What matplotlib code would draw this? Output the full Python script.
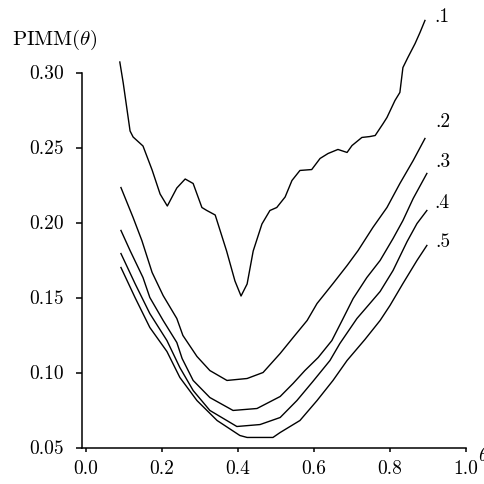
import matplotlib
matplotlib.use("Agg")
import matplotlib.pyplot as plt

plt.rcParams['mathtext.fontset'] = 'cm'

# curve .1
x1 = [0.089, 0.098, 0.116, 0.124, 0.150, 0.174, 0.195, 0.214, 0.239, 0.261, 0.282, 0.305,
      0.318, 0.340, 0.370, 0.392, 0.408, 0.424, 0.440, 0.463, 0.484, 0.502, 0.524, 0.542,
      0.563, 0.594, 0.616, 0.637, 0.663, 0.687, 0.700, 0.726, 0.747, 0.761, 0.782, 0.792,
      0.813, 0.826, 0.834, 0.847, 0.866, 0.879, 0.892]
y1 = [0.307, 0.293, 0.261, 0.257, 0.251, 0.235, 0.219, 0.211, 0.223, 0.229, 0.226, 0.210,
      0.208, 0.205, 0.181, 0.161, 0.151, 0.159, 0.181, 0.199, 0.208, 0.210, 0.217, 0.228,
      0.2347, 0.2353, 0.2427, 0.246, 0.2487, 0.2467, 0.2513, 0.2567, 0.2573, 0.258, 0.266, 0.270,
      0.2813, 0.2867, 0.3033, 0.310, 0.3193, 0.3267, 0.3347]

# curve .2
x2 = [0.092, 0.124, 0.147, 0.174, 0.203, 0.239, 0.255, 0.292, 0.326, 0.371, 0.424, 0.466,
      0.511, 0.545, 0.582, 0.608, 0.650, 0.687, 0.716, 0.755, 0.792, 0.826, 0.861, 0.892]
y2 = [0.2233, 0.2033, 0.188, 0.1667, 0.1513, 0.136, 0.1247, 0.1107, 0.1013, 0.0947, 0.096, 0.100,
      0.1127, 0.1233, 0.1347, 0.146, 0.1593, 0.1713, 0.1813, 0.1967, 0.210, 0.226, 0.2413, 0.256]

# curve .3
x3 = [0.092, 0.116, 0.150, 0.168, 0.203, 0.239, 0.253, 0.282, 0.326, 0.387, 0.450, 0.511,
      0.545, 0.576, 0.611, 0.647, 0.674, 0.703, 0.739, 0.774, 0.808, 0.834, 0.861, 0.897]
y3 = [0.1947, 0.1813, 0.1633, 0.150, 0.1347, 0.120, 0.1093, 0.0947, 0.0833, 0.0747, 0.076, 0.084,
      0.0927, 0.1013, 0.110, 0.1213, 0.1347, 0.1493, 0.1633, 0.1747, 0.1893, 0.2013, 0.216, 0.2327]

# curve .4
x4 = [0.092, 0.129, 0.168, 0.213, 0.247, 0.282, 0.326, 0.397, 0.458, 0.511, 0.555, 0.597,
      0.642, 0.668, 0.713, 0.747, 0.774, 0.808, 0.845, 0.871, 0.897]
y4 = [0.1793, 0.1593, 0.1393, 0.1213, 0.1033, 0.088, 0.0747, 0.064, 0.0653, 0.070, 0.0813, 0.094,
      0.108, 0.1193, 0.136, 0.146, 0.154, 0.168, 0.1873, 0.1993, 0.208]

# curve .5
x5 = [0.092, 0.129, 0.168, 0.213, 0.247, 0.292, 0.345, 0.405, 0.424, 0.492, 0.511, 0.563,
      0.608, 0.650, 0.687, 0.734, 0.774, 0.800, 0.834, 0.871, 0.897]
y5 = [0.170, 0.150, 0.130, 0.114, 0.0967, 0.0813, 0.068, 0.058, 0.0567, 0.0567, 0.060, 0.068,
      0.0813, 0.0947, 0.108, 0.122, 0.1347, 0.1447, 0.1593, 0.1747, 0.1847]

curve_labels = ['.1', '.2', '.3', '.4', '.5']
label_x = [0.937, 0.939, 0.939, 0.937, 0.939]
label_y = [0.3367, 0.2667, 0.240, 0.2127, 0.1867]

xticks = [0.0, 0.2, 0.4, 0.6, 0.8, 1.0]
xtick_labels = ['0.0', '0.2', '0.4', '0.6', '0.8', '1.0']
yticks = [0.05, 0.10, 0.15, 0.20, 0.25, 0.30]
ytick_labels = ['0.05', '0.10', '0.15', '0.20', '0.25', '0.30']

W, H = 485, 484
fig = plt.figure(figsize=(W / 100, H / 100), dpi=100)
left_px, right_px = 82, 466
bottom_px, top_px = 447.5, 12.5
ax = fig.add_axes([left_px / W, (H - bottom_px) / H, (right_px - left_px) / W, (bottom_px - top_px) / H])
ax.set_xlim(-0.0105, 1.0)
ax.set_ylim(0.05, 0.34)

for xs, ys in [(x1, y1), (x2, y2), (x3, y3), (x4, y4), (x5, y5)]:
    ax.plot(xs, ys, color='black', lw=1.0, clip_on=False)

fs = 14
for t, lx, ly in zip(curve_labels, label_x, label_y):
    ax.text(lx, ly, t, ha='center', va='center', fontsize=fs, family='cmr10', clip_on=False)

for s in ['top', 'right']:
    ax.spines[s].set_visible(False)
ax.spines['left'].set_bounds(0.05, 0.30)
ax.spines['left'].set_linewidth(1.1)
ax.spines['bottom'].set_linewidth(1.1)

ax.set_xticks(xticks)
ax.set_xticklabels(xtick_labels, family='cmr10', fontsize=fs)
ax.set_yticks(yticks)
ax.set_yticklabels(ytick_labels, family='cmr10', fontsize=fs)
ax.tick_params(axis='x', direction='out', length=3, width=1.1, pad=6)
ax.tick_params(axis='y', direction='out', length=4, width=1.1, pad=9)

fig.text(12 / W, 1 - 40 / H, r'$\mathrm{PIMM}(\theta)$', fontsize=15, ha='left', va='center')
fig.text(478 / W, 1 - 455 / H, r'$\theta$', fontsize=15, ha='left', va='center')

fig.savefig('out.png', dpi=100)
